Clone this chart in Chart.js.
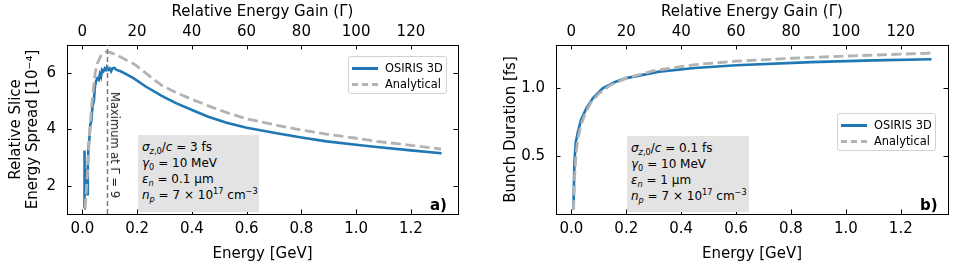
<!DOCTYPE html>
<html>
<head>
<meta charset="utf-8">
<script src="https://cdn.jsdelivr.net/npm/chart.js@4.4.0/dist/chart.umd.min.js"></script>
<style>
    body { margin: 0; background: #fff; font-family: 'DejaVu Sans', sans-serif; color: #000; }
    #wrap { position: relative; width: 958px; height: 272px; overflow: hidden; }
    canvas { position: absolute; top: 0; }
    .leyenda { position: absolute; box-sizing: border-box; width: 99px; height: 38px; border: 1px solid #d2d2d2; border-radius: 3px; background: rgba(255,255,255,0.8); font-size: 11.4px; }
    .leyenda .fila { position: absolute; left: 0; height: 16px; width: 100%; }
    .leyenda .linea { position: absolute; left: 3px; top: 7px; width: 26px; height: 0; }
    .leyenda .sim { border-top: 3px solid #1f77b4; }
    .leyenda .ana { border-top: 3px dashed #b3b3b3; }
    .leyenda .txt { position: absolute; left: 36px; top: 0; line-height: 16px; white-space: nowrap; }
    .caja { position: absolute; box-sizing: border-box; background: #e3e3e3; font-size: 12px; line-height: 16px; padding: 4px 0 0 4px; white-space: nowrap; }
    .caja sub, .caja sup { font-size: 0.68em; line-height: 0; }
    .letra { position: absolute; font-weight: bold; font-size: 15px; line-height: 16px; }
    .maximo { position: absolute; font-size: 11.5px; white-space: nowrap; color: #222; transform: translate(-50%, -50%) rotate(90deg); }
</style>
</head>
<body>
<div id="wrap">
    <canvas id="graficaSpread" width="479" height="272" style="left:0"></canvas>
    <canvas id="graficaDuracion" width="479" height="272" style="left:479px"></canvas>

    <div class="leyenda" style="left:348px; top:56px;">
        <div class="fila" style="top:3px"><div class="linea sim"></div><div class="txt">OSIRIS 3D</div></div>
        <div class="fila" style="top:19px"><div class="linea ana"></div><div class="txt">Analytical</div></div>
    </div>
    <div class="leyenda" style="left:837px; top:113px;">
        <div class="fila" style="top:3px"><div class="linea sim"></div><div class="txt">OSIRIS 3D</div></div>
        <div class="fila" style="top:19px"><div class="linea ana"></div><div class="txt">Analytical</div></div>
    </div>

    <div class="caja" style="left:138px; top:135px; width:121px; height:77px;">
        <i>σ</i><sub><i>z</i>,0</sub>/<i>c</i> = 3 fs<br>
        <i>γ</i><sub>0</sub> = 10 MeV<br>
        <i>ε</i><sub><i>n</i></sub> = 0.1 μm<br>
        <i>n</i><sub><i>p</i></sub> = 7 × 10<sup>17</sup> cm<sup>−3</sup>
    </div>
    <div class="caja" style="left:627px; top:136px; width:122px; height:76px;">
        <i>σ</i><sub><i>z</i>,0</sub>/<i>c</i> = 0.1 fs<br>
        <i>γ</i><sub>0</sub> = 10 MeV<br>
        <i>ε</i><sub><i>n</i></sub> = 1 μm<br>
        <i>n</i><sub><i>p</i></sub> = 7 × 10<sup>17</sup> cm<sup>−3</sup>
    </div>

    <div class="maximo" style="left:115px; top:145px;">Maximum at Γ̄ = 9</div>
    <div class="letra" style="left:430px; top:197px;">a)</div>
    <div class="letra" style="left:920px; top:197px;">b)</div>
</div>

<script>
// panel a: energia (GeV) vs spread relativo (1e-4)
const simEnergyA = [0.007, 0.007, 0.009, 0.011, 0.013, 0.017, 0.019, 0.020, 0.022, 0.026, 0.029, 0.033, 0.037, 0.042, 0.046, 0.050, 0.055, 0.060, 0.064, 0.068, 0.072, 0.077, 0.082, 0.086, 0.090, 0.095, 0.100, 0.105, 0.110, 0.117, 0.125, 0.140, 0.160, 0.188, 0.230, 0.290, 0.340, 0.405, 0.460, 0.527, 0.600, 0.710, 0.800, 0.892, 1.000, 1.075, 1.200, 1.312];
const simSpreadA = [1.20, 3.25, 1.60, 2.60, 2.10, 2.10, 1.70, 2.70, 3.30, 3.70, 4.15, 4.30, 4.80, 5.00, 5.50, 5.70, 5.80, 5.75, 5.95, 5.85, 6.10, 6.05, 6.15, 6.10, 6.20, 6.10, 6.15, 6.05, 6.15, 6.17, 6.10, 6.05, 5.95, 5.80, 5.52, 5.18, 4.93, 4.66, 4.44, 4.23, 4.05, 3.86, 3.71, 3.57, 3.45, 3.37, 3.25, 3.15];
const anaEnergyA = [0.010, 0.015, 0.020, 0.025, 0.032, 0.040, 0.047, 0.056, 0.066, 0.078, 0.088, 0.100, 0.120, 0.150, 0.190, 0.240, 0.290, 0.350, 0.405, 0.470, 0.530, 0.600, 0.710, 0.800, 0.890, 1.000, 1.075, 1.200, 1.310];
const anaSpreadA = [1.20, 1.90, 2.60, 3.60, 4.60, 5.40, 6.00, 6.35, 6.57, 6.70, 6.74, 6.72, 6.65, 6.50, 6.30, 5.92, 5.55, 5.26, 5.04, 4.79, 4.58, 4.37, 4.14, 3.97, 3.83, 3.68, 3.57, 3.43, 3.30];

// panel b: energia (GeV) vs duracion (fs)
const simEnergyB = [0.0075, 0.011, 0.016, 0.023, 0.035, 0.054, 0.078, 0.114, 0.157, 0.200, 0.320, 0.450, 0.600, 0.874, 1.100, 1.312];
const simDurationB = [0.10, 0.45, 0.60, 0.67, 0.765, 0.85, 0.925, 1.00, 1.045, 1.075, 1.123, 1.150, 1.170, 1.193, 1.206, 1.215];
const anaEnergyB = [0.008, 0.012, 0.017, 0.025, 0.035, 0.050, 0.070, 0.100, 0.140, 0.200, 0.300, 0.450, 0.600, 0.800, 1.000, 1.200, 1.310];
const anaDurationB = [0.10, 0.35, 0.52, 0.64, 0.73, 0.81, 0.89, 0.96, 1.02, 1.075, 1.13, 1.175, 1.20, 1.222, 1.238, 1.252, 1.26];

const SERIES_LABELS = ['OSIRIS 3D', 'Analytical'];
const GAMMA_PER_GEV = 100;   // eje superior: ganancia relativa
const PEAK_GAIN = 9;         // maximo en Γ̄ = 9

const FUENTE = "'DejaVu Sans', sans-serif";
const TICK_LEN = 4.5;

Chart.defaults.font.family = FUENTE;
Chart.defaults.font.size = 15;
Chart.defaults.color = '#000';

function puntos(xs, ys) {
    return xs.map((x, i) => ({ x: x, y: ys[i] }));
}

// ticks hacia adentro en los cuatro lados
const ticksAdentro = {
    id: 'ticksAdentro',
    afterDraw(chart) {
        const { ctx, chartArea: a } = chart;
        ctx.save();
        ctx.strokeStyle = '#000';
        ctx.lineWidth = 1;
        Object.values(chart.scales).forEach(s => {
            s.ticks.forEach(t => {
                const p = Math.round(s.getPixelForValue(t.value)) + 0.5;
                ctx.beginPath();
                if (s.position === 'bottom') { ctx.moveTo(p, a.bottom); ctx.lineTo(p, a.bottom - TICK_LEN); }
                if (s.position === 'top') { ctx.moveTo(p, a.top); ctx.lineTo(p, a.top + TICK_LEN); }
                if (s.position === 'left') { ctx.moveTo(a.left, p); ctx.lineTo(a.left + TICK_LEN, p); }
                if (s.position === 'right') { ctx.moveTo(a.right, p); ctx.lineTo(a.right - TICK_LEN, p); }
                ctx.stroke();
            });
        });
        ctx.restore();
    }
};

const lineaMaximo = {
    id: 'lineaMaximo',
    afterDatasetsDraw(chart, args, opts) {
        if (!opts.activo) return;
        const { ctx, chartArea: a, scales } = chart;
        const x = Math.round(scales.x.getPixelForValue(PEAK_GAIN / GAMMA_PER_GEV)) + 0.5;
        ctx.save();
        ctx.strokeStyle = '#7a7a7a';
        ctx.lineWidth = 1.5;
        ctx.setLineDash([5, 3]);
        ctx.beginPath();
        ctx.moveTo(x, a.bottom);
        ctx.lineTo(x, a.top);
        ctx.stroke();
        ctx.restore();
    }
};

function ejes(cfg) {
    const borde = { display: true, color: '#000', width: 1 };
    const sinGrid = { display: false, drawTicks: false };
    return {
        x: {
            type: 'linear', position: 'bottom', min: -0.056, max: 1.372,
            afterFit: s => { s.height = 58; },
            grid: sinGrid, border: borde,
            ticks: { stepSize: 0.2, includeBounds: false, autoSkip: false, maxRotation: 0, padding: 6.5, callback: v => v.toFixed(1) },
            title: { display: true, text: 'Energy [GeV]', padding: { top: 0, bottom: 9 } }
        },
        x2: {
            type: 'linear', position: 'top', min: -0.056, max: 1.372,
            afterFit: s => { s.height = 45; },
            grid: sinGrid, border: borde,
            ticks: { stepSize: 0.2, includeBounds: false, autoSkip: false, maxRotation: 0, padding: 4, callback: v => String(Math.round(v * GAMMA_PER_GEV)) },
            title: { display: true, text: 'Relative Energy Gain (Γ̄)', padding: { top: 3, bottom: 0 } }
        },
        y: {
            type: 'linear', position: 'left', min: cfg.ymin, max: cfg.ymax,
            afterFit: s => { s.width = cfg.izq; },
            grid: sinGrid, border: borde,
            ticks: { stepSize: cfg.paso, includeBounds: false, autoSkip: false, padding: 11, callback: cfg.formato },
            title: { display: true, text: cfg.titulo, font: { lineHeight: cfg.altoLinea }, padding: { top: cfg.padTitulo, bottom: 0 } }
        },
        y2: {
            type: 'linear', position: 'right', min: cfg.ymin, max: cfg.ymax,
            afterFit: s => { s.width = cfg.der; },
            grid: sinGrid, border: borde,
            ticks: { display: false, stepSize: cfg.paso, includeBounds: false, autoSkip: false }
        }
    };
}

function dibujarPanel(idCanvas, sim, ana, cfg) {
    const ctx = document.getElementById(idCanvas);
    return new Chart(ctx, {
        type: 'line',
        data: {
            datasets: [
                {
                    label: SERIES_LABELS[1], data: ana, order: 0,
                    borderColor: '#b3b3b3', borderWidth: 2.8, borderDash: [10, 4.5],
                    pointRadius: 0, tension: 0, fill: false
                },
                {
                    label: SERIES_LABELS[0], data: sim, order: 1,
                    borderColor: '#1f77b4', borderWidth: 2.6,
                    pointRadius: 0, tension: 0, fill: false
                }
            ]
        },
        options: {
            responsive: false,
            animation: false,
            devicePixelRatio: 1,
            layout: { padding: 0 },
            plugins: {
                legend: { display: false },
                tooltip: { enabled: false },
                lineaMaximo: { activo: cfg.conMaximo }
            },
            scales: ejes(cfg)
        },
        plugins: [ticksAdentro, lineaMaximo]
    });
}

dibujarPanel('graficaSpread',
    puntos(simEnergyA, simSpreadA),
    puntos(anaEnergyA, anaSpreadA),
    {
        ymin: 1.0, ymax: 6.98, paso: 2, izq: 67, der: 21,
        formato: v => String(v),
        titulo: ['Relative Slice', 'Energy Spread [10⁻⁴]'],
        altoLinea: 1.1, padTitulo: 8.3, conMaximo: true
    });

dibujarPanel('graficaDuracion',
    puntos(simEnergyB, simDurationB),
    puntos(anaEnergyB, anaDurationB),
    {
        ymin: 0.07, ymax: 1.32, paso: 0.5, izq: 77, der: 10,
        formato: v => v.toFixed(1),
        titulo: 'Bunch Duration [fs]',
        altoLinea: 1.2, padTitulo: 23.3, conMaximo: false
    });
</script>
</body>
</html>
